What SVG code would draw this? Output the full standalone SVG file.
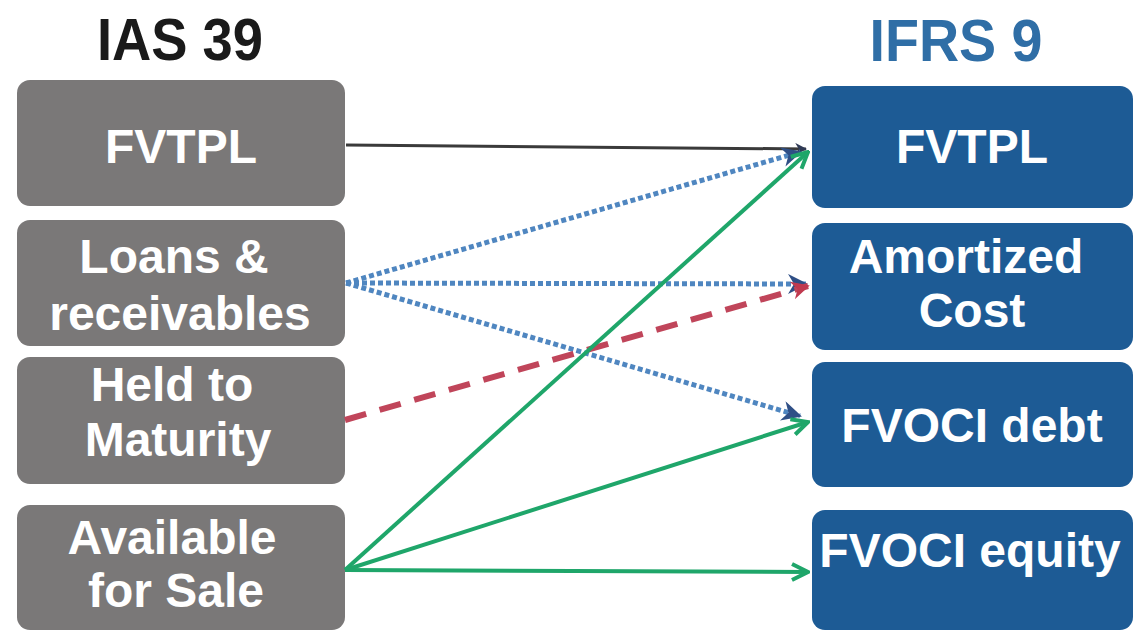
<svg xmlns="http://www.w3.org/2000/svg" width="1136" height="632" viewBox="0 0 1136 632">
  <style>
    .title { font-family: "Liberation Sans", Arial, sans-serif; font-weight: bold; font-size: 60px; text-anchor: middle; }
    .lbl { font-family: "Liberation Sans", Arial, sans-serif; font-weight: bold; font-size: 48px; fill: #ffffff; text-anchor: middle; }
    .old { fill: #7a7878; }
    .new { fill: #1d5b95; }
    .c { fill: none; }
  </style>
  <defs>
    <marker id="ah-black" viewBox="0 0 10 10" refX="9" refY="5" markerWidth="4" markerHeight="4" orient="auto" markerUnits="strokeWidth">
      <path d="M0,0 L10,5 L0,10 L3,5 Z" fill="#2f3a55"/>
    </marker>
    <marker id="ah-blue" viewBox="0 0 10 10" refX="9" refY="5" markerWidth="4" markerHeight="4" orient="auto" markerUnits="strokeWidth">
      <path d="M0,0 L10,5 L0,10 L3,5 Z" fill="#2f4f86"/>
    </marker>
    <marker id="ah-red" viewBox="0 0 10 10" refX="9" refY="5" markerWidth="3" markerHeight="3" orient="auto" markerUnits="strokeWidth">
      <path d="M0,0 L10,5 L0,10 L3,5 Z" fill="#c0394f"/>
    </marker>
    <marker id="ah-green" viewBox="0 0 10 10" refX="9" refY="5" markerWidth="5" markerHeight="5" orient="auto" markerUnits="strokeWidth">
      <path d="M1,1 L9,5 L1,9" fill="none" stroke="#1fa66a" stroke-width="2"/>
    </marker>
  </defs>

  <rect width="1136" height="632" fill="#ffffff"/>

  <!-- column headings -->
  <text class="title" x="180" y="60" fill="#1a1a1a" textLength="166" lengthAdjust="spacingAndGlyphs">IAS 39</text>
  <text class="title" x="956" y="61" fill="#2f6ea6" textLength="173" lengthAdjust="spacingAndGlyphs">IFRS 9</text>

  <!-- IAS 39 categories -->
  <g id="ias-fvtpl">
    <rect class="old" x="17" y="80" width="328" height="126" rx="13"/>
    <text class="lbl" x="181" y="163">FVTPL</text>
  </g>
  <g id="ias-loans">
    <rect class="old" x="17" y="220" width="328" height="126" rx="13"/>
    <text class="lbl" x="174" y="273">Loans &amp;</text>
    <text class="lbl" x="180" y="330">receivables</text>
  </g>
  <g id="ias-htm">
    <rect class="old" x="17" y="357" width="328" height="127" rx="13"/>
    <text class="lbl" x="172" y="401">Held to</text>
    <text class="lbl" x="178" y="456">Maturity</text>
  </g>
  <g id="ias-afs">
    <rect class="old" x="17" y="505" width="328" height="125" rx="13"/>
    <text class="lbl" x="172" y="554">Available</text>
    <text class="lbl" x="176" y="607">for Sale</text>
  </g>

  <!-- IFRS 9 categories -->
  <g id="ifrs-fvtpl">
    <rect class="new" x="812" y="86" width="321" height="122" rx="13"/>
    <text class="lbl" x="972" y="163">FVTPL</text>
  </g>
  <g id="ifrs-ac">
    <rect class="new" x="812" y="223" width="321" height="127" rx="13"/>
    <text class="lbl" x="966" y="273">Amortized</text>
    <text class="lbl" x="972" y="327">Cost</text>
  </g>
  <g id="ifrs-fvoci-debt">
    <rect class="new" x="812" y="362" width="321" height="125" rx="13"/>
    <text class="lbl" x="972" y="442">FVOCI debt</text>
  </g>
  <g id="ifrs-fvoci-equity">
    <rect class="new" x="812" y="510" width="321" height="120" rx="13"/>
    <text class="lbl" x="970" y="567">FVOCI equity</text>
  </g>

  <!-- reclassification connectors -->
  <g id="connectors">
    <line class="c" x1="346" y1="145" x2="806" y2="149" stroke="#3a3a3a" stroke-width="3" marker-end="url(#ah-black)"/>
    <line class="c" x1="346" y1="283" x2="800" y2="152" stroke="#4f86c0" stroke-width="5" stroke-dasharray="5 3" marker-end="url(#ah-blue)"/>
    <line class="c" x1="346" y1="283" x2="806" y2="284" stroke="#4f86c0" stroke-width="5" stroke-dasharray="5 3" marker-end="url(#ah-blue)"/>
    <line class="c" x1="346" y1="283" x2="800" y2="416" stroke="#4f86c0" stroke-width="5" stroke-dasharray="5 3" marker-end="url(#ah-blue)"/>
    <line class="c" x1="345" y1="420" x2="808" y2="286" stroke="#c0455a" stroke-width="6" stroke-dasharray="22 14" marker-end="url(#ah-red)"/>
    <line class="c" x1="345" y1="570" x2="808" y2="152" stroke="#1fa66a" stroke-width="4" marker-end="url(#ah-green)"/>
    <line class="c" x1="345" y1="570" x2="808" y2="422" stroke="#1fa66a" stroke-width="4" marker-end="url(#ah-green)"/>
    <line class="c" x1="345" y1="570" x2="808" y2="572" stroke="#1fa66a" stroke-width="4" marker-end="url(#ah-green)"/>
  </g>
</svg>
